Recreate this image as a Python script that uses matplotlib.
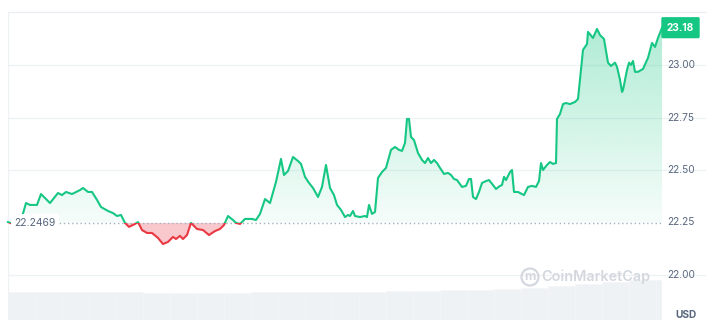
import numpy as np
import matplotlib
matplotlib.use("Agg")
import matplotlib.pyplot as plt
from matplotlib.patches import Rectangle, Circle

plt.rcParams['font.family'] = ['Inter', 'DejaVu Sans']

#%% data (time steps, price in USD)
t = [8, 14, 20, 22, 26, 30, 37, 41, 45, 50, 58, 62, 66, 72, 80, 83, 88, 92, 97, 101,
     108, 113, 117, 121, 125, 129, 135, 138, 142, 147, 152, 158, 163, 168, 173, 176,
     180, 183, 187, 191, 197, 203, 209, 215, 220, 224, 228, 233, 236, 240, 245, 252,
     256, 260, 265, 270, 276, 281, 284, 288, 293, 298, 301, 305, 309, 313, 318, 322,
     326, 330, 334, 337, 341, 345, 348, 350, 353, 355, 360, 365, 367, 369, 372, 375,
     378, 382, 386, 391, 395, 399, 402, 405, 407, 409, 411, 414, 418, 422, 425, 428,
     431, 434, 437, 440, 444, 448, 451, 454, 457, 462, 466, 469, 471, 473, 476, 479,
     482, 486, 489, 493, 496, 500, 502, 504, 506, 510, 512, 514, 518, 522, 524, 528,
     532, 536, 539, 541, 543, 547, 550, 553, 556, 557, 560, 563, 566, 570, 575, 578,
     581, 583, 587, 588, 593, 597, 600, 604, 608, 611, 615, 617, 620, 622, 623, 627,
     629, 631, 633, 635, 638, 643, 648, 652, 655, 658, 662]
price = [22.251, 22.240, 22.250, 22.275, 22.342, 22.333, 22.333, 22.385, 22.366, 22.342,
         22.390, 22.380, 22.395, 22.385, 22.404, 22.414, 22.395, 22.395, 22.357, 22.323,
         22.304, 22.294, 22.280, 22.285, 22.247, 22.228, 22.242, 22.251, 22.213, 22.199,
         22.199, 22.175, 22.146, 22.156, 22.180, 22.170, 22.185, 22.170, 22.189, 22.247,
         22.218, 22.213, 22.189, 22.208, 22.218, 22.237, 22.280, 22.261, 22.247, 22.242,
         22.266, 22.266, 22.261, 22.290, 22.361, 22.342, 22.443, 22.553, 22.476, 22.495,
         22.562, 22.543, 22.529, 22.467, 22.438, 22.414, 22.371, 22.419, 22.524, 22.414,
         22.380, 22.333, 22.309, 22.275, 22.285, 22.280, 22.304, 22.280, 22.275, 22.280,
         22.275, 22.333, 22.290, 22.299, 22.462, 22.490, 22.510, 22.596, 22.610, 22.596,
         22.591, 22.629, 22.744, 22.744, 22.658, 22.643, 22.581, 22.548, 22.533, 22.557,
         22.533, 22.548, 22.533, 22.510, 22.481, 22.486, 22.476, 22.457, 22.452, 22.419,
         22.424, 22.457, 22.457, 22.371, 22.361, 22.395, 22.438, 22.447, 22.452, 22.428,
         22.409, 22.424, 22.428, 22.467, 22.452, 22.490, 22.500, 22.395, 22.395, 22.385,
         22.380, 22.419, 22.424, 22.419, 22.447, 22.533, 22.500, 22.524, 22.538, 22.529,
         22.533, 22.744, 22.768, 22.815, 22.820, 22.815, 22.825, 22.839, 22.978, 23.074,
         23.102, 23.160, 23.131, 23.174, 23.145, 23.126, 23.013, 22.997, 23.013, 22.993,
         22.931, 22.873, 22.882, 22.978, 23.013, 23.002, 23.021, 22.969, 22.969, 22.983,
         23.036, 23.107, 23.088, 23.131, 23.18]
open_price = 22.2469
last_price = 23.18
yticks = [22.00, 22.25, 22.50, 22.75, 23.00]

# volume (relative), one bar per block of time
vol_t = [8, 35, 62, 89, 116, 143, 170, 197, 224, 251, 278, 305, 332, 359, 386, 413,
         440, 467, 494, 521, 548, 575, 602, 629, 656]
vol = [28, 28, 28, 28, 28, 27.5, 27.5, 27.5, 27.5, 28, 28, 28, 28, 28.5, 29, 29.5,
       30, 30.5, 31, 32, 34, 36, 38, 40, 40]

GREEN = '#16c784'
RED = '#ea3943'
GREY = '#58667e'

t = np.array(t, dtype=float)
price = np.array(price)

fig = plt.figure(figsize=(7.11, 3.30), dpi=100)
ax = fig.add_axes([8/711, 10/330, 654/711, 308/330])
ax.set_xlim(8, 662)
ax.set_ylim(21.783, 23.255)
ax.axis('off')

# volume on its own scale at the bottom
axv = ax.twinx()
axv.set_ylim(0, 308)
axv.axis('off')
axv.bar(vol_t, vol, width=27, align='edge', color='#eff2f5', edgecolor='#f4f6f8',
        linewidth=0.4, zorder=0)
axv.set_zorder(0)
ax.set_zorder(1)
ax.patch.set_visible(False)

# grid
for yv in yticks:
    if yv == 22.25:
        continue
    ax.axhline(yv, color='#eff2f5', lw=0.9, zorder=1, xmax=1.065, clip_on=False)
ax.axhline(23.255, color='#eaedf1', lw=0.9, zorder=1, xmax=1.065, clip_on=False)
ax.axvline(8, color='#eff2f5', lw=0.9, zorder=1)

# green gradient fill above open price
poly_up = ax.fill_between(t, price, open_price, color='none')
ymax = price.max()
grad = np.linspace(0, 1, 256).reshape(-1, 1)
cols = np.zeros((256, 1, 4))
cols[..., 0] = 0x16/255
cols[..., 1] = 0xc7/255
cols[..., 2] = 0x84/255
cols[..., 3] = 0.04 + 0.30 * grad
img = ax.imshow(cols, extent=[8, 662, open_price, ymax], origin='lower',
                aspect='auto', zorder=2)
img.set_clip_path(poly_up.get_paths()[0], transform=ax.transData)

# red fill below open price
red_fill = ax.fill_between(t, price, open_price, where=price < open_price + 0.01,
                           color='#f9c8cc', lw=0, zorder=2, interpolate=True)
red_fill.set_clip_path(Rectangle((0, 20), 1000, open_price - 20, transform=ax.transData))

# price line, green above / red below
up_line, = ax.plot(t, price, color=GREEN, lw=1.5, zorder=4, solid_joinstyle='round')
up_line.set_clip_path(Rectangle((0, open_price), 1000, 5, transform=ax.transData))
dn_line, = ax.plot(t, price, color=RED, lw=1.5, zorder=4, solid_joinstyle='round')
dn_line.set_clip_path(Rectangle((0, 20), 1000, open_price - 20, transform=ax.transData))

# dotted open price line and label
ax.plot([55, 662], [open_price, open_price], color='#a6b0c3', lw=1,
        ls=(0, (1, 2)), zorder=3)
ax.text(14, open_price, f'{open_price:.4f}', color=GREY, fontsize=7.5, va='center',
        ha='left', zorder=5,
        bbox=dict(facecolor='white', edgecolor='none', pad=2.5))

# right axis labels
for yv in yticks:
    ax.text(667, yv, f'{yv:.2f}', color=GREY, fontsize=7.3, va='center', ha='left',
            clip_on=False)
ax.text(697, 21.805, 'USD', color=GREY, fontsize=7.3, fontweight='bold', va='center',
        ha='right', clip_on=False)

# last price tag
ax.text(680.5, last_price, f'{last_price:.2f}', color='white', fontsize=7.3,
        fontweight='bold', va='center', ha='center', clip_on=False, zorder=6,
        bbox=dict(boxstyle='round,pad=0.55,rounding_size=0.15', facecolor=GREEN,
                  edgecolor='none'))

# watermark
wm = '#d3d8df'
fig.text(541/711, 1 - 277/330, 'CoinMarketCap', color=wm, fontsize=10.4,
         fontweight='semibold', va='center', ha='left')
fig.text(530/711, 1 - 277/330, 'm', color=wm, fontsize=9, fontweight='bold',
         va='center', ha='center')
fig.patches.append(Circle((5.30, 0.53), 0.085, transform=fig.dpi_scale_trans,
                          fill=False, edgecolor=wm, lw=1.6))

fig.savefig('out.png', dpi=100, facecolor='white')
